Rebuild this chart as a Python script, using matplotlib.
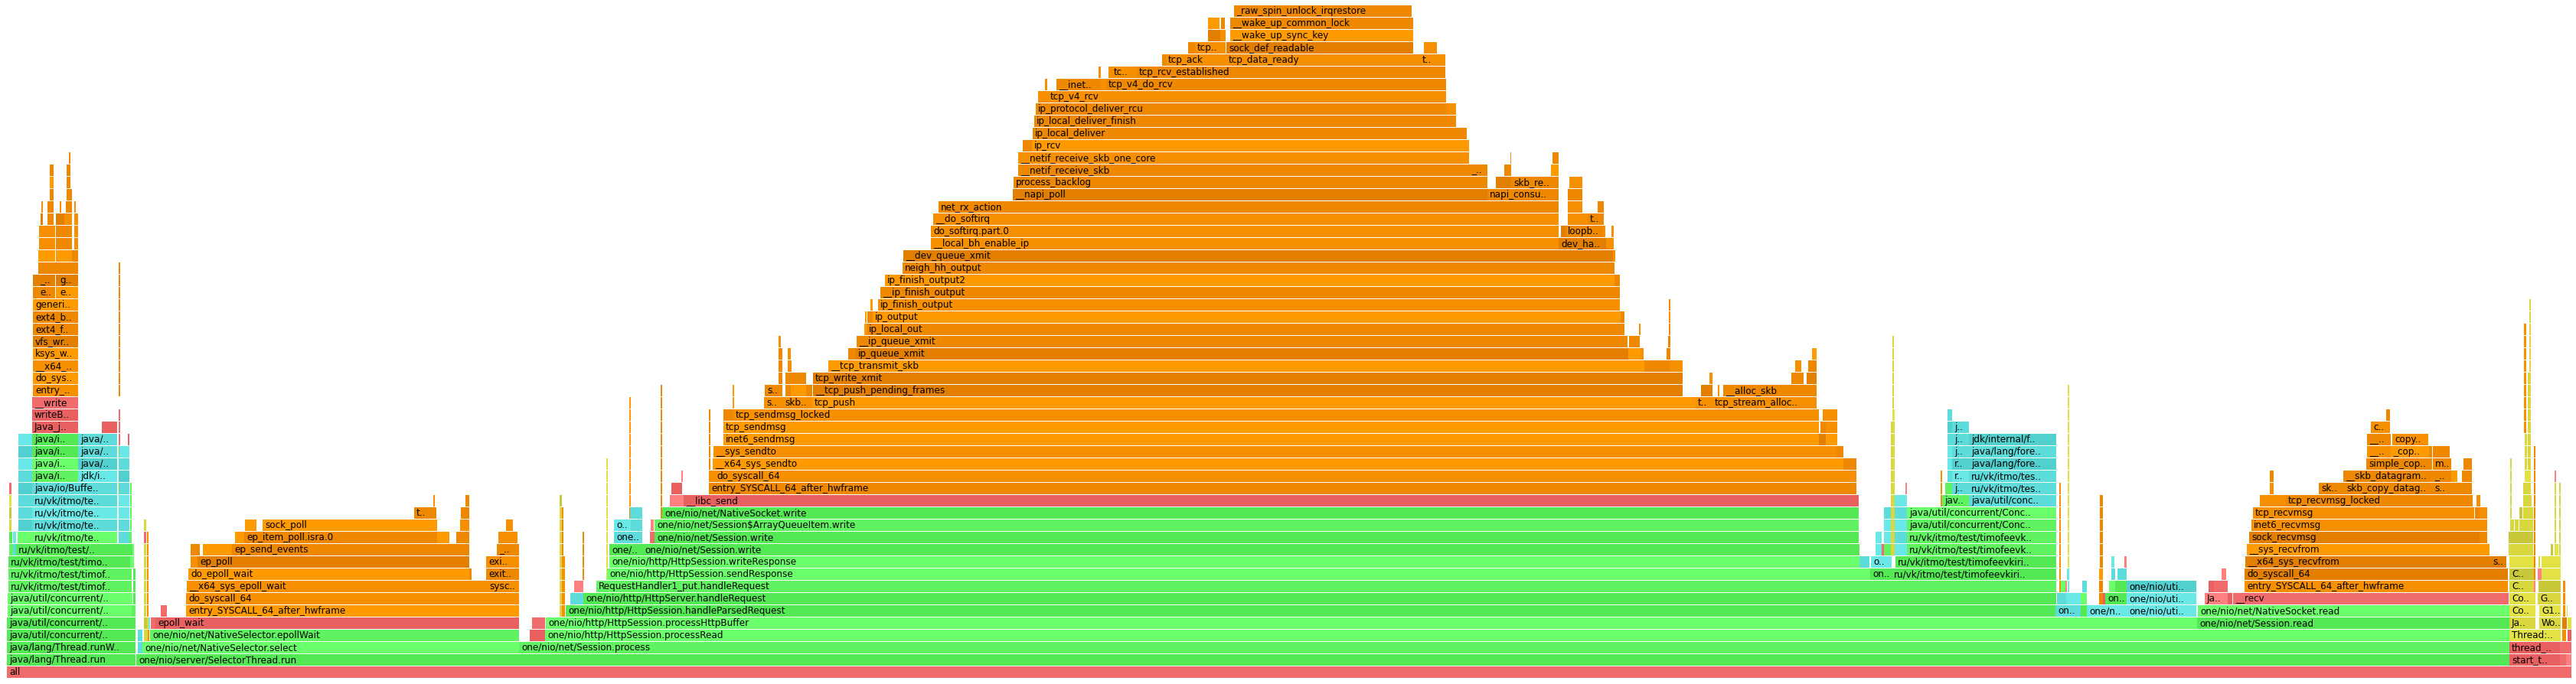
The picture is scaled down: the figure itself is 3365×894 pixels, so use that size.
import matplotlib
matplotlib.use("Agg")
import matplotlib.pyplot as plt

# async-profiler flame graph, x is in samples (1 sample ~ 1 px of the export)
# frame: (row, start, end, colour, name)

base_frames = [
    (0, 9, 3359, "r2", "all"),
    (1, 9, 177, "g3", "java/lang/Thread.run"),
    (1, 178, 3278, "g3", "one/nio/server/SelectorThread.run"),
    (1, 3278, 3344, "r3", "start_t.."), (1, 3344, 3352, "r2", ""), (1, 3352, 3359, "r1", ""),
    (2, 9, 177, "g3", "java/lang/Thread.runW.."),
    (2, 180, 186, "c2", ""),
    (2, 186, 678, "g1", "one/nio/net/NativeSelector.select"),
    (2, 678, 3278, "g2", "one/nio/net/Session.process"),
    (2, 3278, 3344, "r3", "thread_.."), (2, 3344, 3352, "r2", ""), (2, 3352, 3359, "r2", ""),
    (3, 9, 177, "g3", "java/util/concurrent/.."),
    (3, 180, 186, "c2", ""), (3, 188, 193, "y2", ""), (3, 193, 195, "o2", ""),
    (3, 196, 678, "g2", "one/nio/net/NativeSelector.epollWait"),
    (3, 692, 697, "r3", ""), (3, 697, 712, "r3", ""),
    (3, 712, 3278, "g1", "one/nio/http/HttpSession.processRead"),
    (3, 3278, 3345, "y1", "Thread:.."), (3, 3347, 3352, "o2", ""), (3, 3354, 3359, "r3", ""),
    (4, 9, 177, "g3", "java/util/concurrent/.."),
    (4, 188, 192, "y3", ""), (4, 192, 194, "y2", ""), (4, 194, 196, "c1", ""),
    (4, 197, 203, "r2", ""), (4, 203, 678, "r3", "epoll_wait"),
    (4, 695, 712, "r2", ""),
    (4, 713, 2870, "g1", "one/nio/http/HttpSession.processHttpBuffer"),
    (4, 2870, 3278, "g3", "one/nio/net/Session.read"),
    (4, 3278, 3312, "y2", "Ja.."), (4, 3317, 3345, "y2", "Wo.."),
    (4, 3347, 3353, "o4", ""), (4, 3354, 3359, "y1", ""),
]

left_stack = [
    (5, 10, 172, "g1", "java/util/concurrent/.."), (5, 172, 177, "g2", ""),
    (6, 10, 173, "g1", "java/util/concurrent/.."), (6, 174, 177, "g3", ""),
    (7, 11, 172, "g2", "ru/vk/itmo/test/timof.."), (7, 174, 177, "g3", ""),
    (8, 11, 172, "g2", "ru/vk/itmo/test/timof.."), (8, 174, 177, "g3", ""),
    (9, 11, 170, "g3", "ru/vk/itmo/test/timo.."), (9, 170, 175, "g1", ""),
    (10, 12, 17, "g2", ""), (10, 17, 21, "c2", ""), (10, 21, 173, "g3", "ru/vk/itmo/test/.."), (10, 173, 175, "g1", ""),
    (11, 12, 16, "g3", ""), (11, 17, 21, "c1", ""), (11, 23, 42, "g1", ""), (11, 42, 153, "g1", "ru/vk/itmo/te.."),
    (11, 155, 169, "c2", ""), (11, 169, 172, "g2", ""),
    (12, 12, 15, "y2", ""), (12, 24, 42, "c3", ""), (12, 42, 153, "c2", "ru/vk/itmo/te.."), (12, 155, 169, "c2", ""), (12, 170, 172, "g2", ""),
    (13, 12, 15, "y3", ""), (13, 24, 42, "c2", ""), (13, 42, 153, "c1", "ru/vk/itmo/te.."), (13, 155, 169, "c1", ""), (13, 170, 172, "g2", ""),
    (14, 12, 15, "y1", ""), (14, 24, 42, "c2", ""), (14, 42, 153, "c2", "ru/vk/itmo/te.."), (14, 155, 169, "c1", ""), (14, 170, 172, "g2", ""),
    (15, 12, 15, "r2", ""), (15, 24, 42, "c3", ""), (15, 42, 153, "c2", "java/io/Buffe.."), (15, 155, 156, "g3", ""), (15, 156, 169, "c2", ""), (15, 170, 172, "g2", ""),
    (16, 24, 42, "c2", ""), (16, 42, 102, "g2", "java/i.."), (16, 102, 153, "c1", "jdk/i.."), (16, 155, 169, "c3", ""),
    (17, 24, 42, "c1", ""), (17, 42, 102, "g1", "java/i.."), (17, 102, 153, "c3", "java/.."), (17, 155, 169, "c2", ""),
    (18, 24, 42, "c3", ""), (18, 42, 102, "g3", "java/i.."), (18, 102, 153, "c2", "java/.."), (18, 155, 156, "g3", ""), (18, 156, 169, "c1", ""),
    (19, 24, 42, "c1", ""), (19, 42, 102, "g3", "java/i.."), (19, 102, 153, "c2", "java/.."), (19, 155, 157, "r2", ""), (19, 167, 169, "r3", ""),
    (20, 42, 102, "r3", "Java_j.."), (20, 133, 153, "r3", ""), (20, 155, 157, "r2", ""),
    (21, 42, 102, "r3", "writeB.."), (21, 155, 157, "r2", ""),
    (22, 42, 102, "r2", "__write"),
    (23, 43, 102, "o2", "entry_.."), (24, 43, 102, "o1", "do_sys.."),
    (25, 43, 102, "o2", "__x64_.."), (26, 43, 102, "o1", "ksys_w.."),
    (27, 43, 102, "o4", "vfs_wr.."), (28, 43, 102, "o3", "ext4_f.."),
    (29, 43, 102, "o3", "ext4_b.."), (30, 43, 102, "o1", "generi.."),
    (31, 43, 49, "o3", ""), (31, 49, 72, "o3", "e.."), (31, 73, 75, "o1", ""), (31, 75, 102, "o1", "e.."),
    (32, 43, 49, "o4", ""), (32, 49, 72, "o4", "_.."), (32, 73, 75, "o4", ""), (32, 75, 102, "o4", "g.."),
    (33, 50, 102, "o3", ""),
    (34, 50, 72, "o1", ""), (34, 73, 94, "o1", ""), (34, 94, 102, "o3", ""),
    (35, 51, 72, "o2", ""), (35, 73, 94, "o3", ""), (35, 97, 102, "o2", ""),
    (36, 51, 72, "o2", ""), (36, 73, 94, "o3", ""), (36, 97, 102, "o2", ""),
    (37, 53, 56, "o4", ""), (37, 62, 70, "o3", ""), (37, 73, 84, "o4", ""), (37, 84, 94, "o2", ""), (37, 97, 102, "o2", ""),
    (38, 54, 56, "o2", ""), (38, 62, 70, "o3", ""), (38, 78, 80, "o2", ""), (38, 86, 94, "o3", ""), (38, 97, 99, "o2", ""),
    (39, 65, 70, "o3", ""), (39, 87, 94, "o3", ""),
    (40, 65, 70, "o1", ""), (40, 87, 92, "o3", ""),
    (41, 65, 70, "o3", ""), (41, 87, 92, "o3", ""),
    (42, 90, 92, "o3", ""),
]

epoll_stack = [
    (5, 210, 218, "r2", ""), (5, 243, 678, "o1", "entry_SYSCALL_64_after_hwframe"),
    (6, 243, 678, "o2", "do_syscall_64"),
    (7, 244, 636, "o2", "__x64_sys_epoll_wait"), (7, 636, 678, "o2", "sysc.."),
    (8, 246, 613, "o1", "do_epoll_wait"), (8, 613, 616, "o3", ""), (8, 635, 678, "o3", "exit.."),
    (9, 249, 258, "o2", ""), (9, 258, 613, "o4", "ep_poll"), (9, 635, 678, "o2", "exi.."),
    (10, 249, 261, "o3", ""), (10, 265, 303, "o1", ""), (10, 303, 587, "o3", "ep_send_events"),
    (10, 587, 596, "o3", ""), (10, 596, 613, "o3", ""), (10, 649, 678, "o3", "_.."),
    (11, 307, 319, "o1", ""), (11, 319, 571, "o3", "ep_item_poll.isra.0"), (11, 571, 587, "o1", ""),
    (11, 596, 613, "o3", ""), (11, 651, 676, "o2", ""),
    (12, 320, 335, "o1", ""), (12, 343, 571, "o1", "sock_poll"), (12, 601, 613, "o2", ""), (12, 661, 670, "o2", ""),
    (13, 541, 570, "o3", "t.."), (13, 602, 613, "o3", ""),
    (14, 566, 568, "o2", ""), (14, 608, 613, "o3", ""),
]

request_stack = [
    (5, 739, 2685, "g3", "one/nio/http/HttpSession.handleParsedRequest"),
    (6, 745, 762, "c2", ""), (6, 762, 2686, "g3", "one/nio/http/HttpServer.handleRequest"),
    (7, 750, 762, "r1", ""), (7, 779, 2686, "g2", "RequestHandler1_put.handleRequest"),
    (8, 793, 2443, "g1", "one/nio/http/HttpSession.sendResponse"), (8, 2443, 2471, "g3", "on.."),
    (8, 2471, 2686, "g3", "ru/vk/itmo/test/timofeevkiri.."),
    (9, 796, 2429, "g1", "one/nio/http/HttpSession.writeResponse"), (9, 2429, 2442, "c2", ""),
    (9, 2444, 2471, "c1", "o.."), (9, 2476, 2686, "g3", "ru/vk/itmo/test/timofeevkiri.."),
    (10, 796, 839, "g3", "one/.."), (10, 839, 2429, "g3", "one/nio/net/Session.write"),
    (10, 2450, 2458, "c1", ""), (10, 2458, 2461, "r2", ""), (10, 2461, 2470, "g2", ""), (10, 2475, 2491, "c1", ""),
    (10, 2491, 2686, "g2", "ru/vk/itmo/test/timofeevk.."),
    (11, 802, 839, "c2", "one.."), (11, 849, 855, "r2", ""), (11, 855, 2428, "g3", "one/nio/net/Session.write"),
    (11, 2450, 2458, "c1", ""), (11, 2461, 2470, "c1", ""), (11, 2475, 2491, "c2", ""),
    (11, 2491, 2686, "g2", "ru/vk/itmo/test/timofeevk.."),
    (12, 802, 824, "c1", "o.."), (12, 824, 839, "c2", ""), (12, 850, 854, "r1", ""),
    (12, 855, 2428, "g2", "one/nio/net/Session$ArrayQueueItem.write"),
    (12, 2461, 2470, "c1", ""), (12, 2475, 2491, "c1", ""), (12, 2491, 2686, "g2", "java/util/concurrent/Conc.."),
    (13, 823, 839, "c2", ""), (13, 865, 2428, "g3", "one/nio/net/NativeSocket.write"),
    (13, 2461, 2470, "c2", ""), (13, 2475, 2491, "c2", ""), (13, 2491, 2686, "g1", "java/util/concurrent/Conc.."),
    (14, 875, 893, "r1", ""), (14, 893, 2428, "r3", "__libc_send"),
    (14, 2475, 2491, "c1", ""), (14, 2537, 2572, "g2", "jav.."), (14, 2572, 2686, "c2", "java/util/conc.."),
    (15, 877, 891, "r3", ""), (15, 926, 2425, "o3", "entry_SYSCALL_64_after_hwframe"),
    (15, 2541, 2550, "g2", ""), (15, 2550, 2572, "c2", "j.."), (15, 2572, 2686, "c2", "ru/vk/itmo/tes.."),
    (16, 890, 892, "r1", ""), (16, 926, 933, "o2", ""), (16, 933, 2425, "o2", "do_syscall_64"),
    (16, 2544, 2550, "c2", ""), (16, 2550, 2572, "c1", "r.."), (16, 2572, 2686, "c2", "ru/vk/itmo/tes.."),
    (17, 931, 2408, "o1", "__x64_sys_sendto"), (17, 2408, 2425, "o3", ""),
    (17, 2544, 2550, "c1", ""), (17, 2550, 2572, "c3", "r.."), (17, 2572, 2686, "c3", "java/lang/fore.."),
    (18, 932, 2399, "o2", "__sys_sendto"), (18, 2399, 2408, "o3", ""),
    (18, 2544, 2550, "c1", ""), (18, 2550, 2572, "c2", "j.."), (18, 2572, 2686, "c2", "java/lang/fore.."),
    (19, 945, 2376, "o1", "inet6_sendmsg"), (19, 2376, 2385, "o4", ""), (19, 2385, 2400, "o1", ""),
    (19, 2544, 2550, "c2", ""), (19, 2550, 2572, "c2", "j.."), (19, 2572, 2686, "c3", "jdk/internal/f.."),
    (20, 945, 2376, "o1", "tcp_sendmsg"), (20, 2378, 2385, "o3", ""), (20, 2385, 2400, "o2", ""),
    (20, 2544, 2550, "c3", ""), (20, 2550, 2572, "c2", "j.."),
    (21, 945, 958, "o3", ""), (21, 958, 2376, "o2", "tcp_sendmsg_locked"), (21, 2381, 2400, "o2", ""),
    (21, 2544, 2550, "c2", ""),
]

tcp_stack = [
    (22, 998, 1022, "o2", "s.."), (22, 1022, 1061, "o2", "skb.."), (22, 1061, 2198, "o1", "tcp_push"),
    (22, 2198, 2215, "o1", ""), (22, 2215, 2237, "o2", "t.."), (22, 2237, 2373, "o2", "tcp_stream_alloc.."),
    (23, 999, 1022, "o3", "s.."), (23, 1026, 1033, "o3", ""), (23, 1033, 1053, "o1", ""), (23, 1053, 1061, "o3", ""),
    (23, 1062, 2198, "o4", "__tcp_push_pending_frames"), (23, 2222, 2237, "o4", ""), (23, 2244, 2246, "o2", ""),
    (23, 2251, 2373, "o3", "__alloc_skb"),
    (24, 1017, 1022, "o3", ""), (24, 1026, 1053, "o3", ""), (24, 1062, 2198, "o4", "tcp_write_xmit"),
    (24, 2233, 2237, "o2", ""), (24, 2340, 2356, "o3", ""), (24, 2360, 2373, "o4", ""),
    (25, 1017, 1022, "o3", ""), (25, 1029, 1034, "o2", ""), (25, 1082, 2148, "o1", "__tcp_transmit_skb"),
    (25, 2148, 2162, "o3", ""), (25, 2162, 2181, "o3", ""), (25, 2181, 2198, "o2", ""),
    (25, 2345, 2353, "o2", ""), (25, 2362, 2373, "o3", ""),
    (26, 1017, 1022, "o3", ""), (26, 1029, 1033, "o2", ""), (26, 1108, 1118, "o3", ""), (26, 1118, 2127, "o4", "ip_queue_xmit"),
    (26, 2127, 2143, "o1", ""), (26, 2143, 2147, "o2", ""), (26, 2177, 2182, "o3", ""), (26, 2367, 2373, "o1", ""),
    (27, 1017, 1020, "o2", ""), (27, 1119, 2126, "o3", "__ip_queue_xmit"), (27, 2128, 2142, "o3", ""), (27, 2179, 2182, "o3", ""),
    (28, 1129, 1132, "o1", ""), (28, 1132, 2122, "o3", "ip_local_out"), (28, 2141, 2143, "o2", ""), (28, 2180, 2182, "o3", ""),
    (29, 1130, 1132, "o1", ""), (29, 1133, 1140, "o3", ""), (29, 1140, 2117, "o1", "ip_output"), (29, 2117, 2122, "o3", ""), (29, 2180, 2182, "o2", ""),
    (30, 1137, 1140, "o1", ""), (30, 1147, 2116, "o2", "ip_finish_output"), (30, 2180, 2182, "o3", ""),
    (31, 1150, 2116, "o3", "__ip_finish_output"),
    (32, 1156, 2109, "o1", "ip_finish_output2"), (32, 2109, 2116, "o3", ""),
    (33, 1179, 2109, "o3", "neigh_hh_output"),
    (34, 1180, 2107, "o4", "__dev_queue_xmit"), (34, 2107, 2110, "o2", ""),
    (35, 1216, 2036, "o2", "__local_bh_enable_ip"), (35, 2036, 2098, "o4", "dev_ha.."), (35, 2098, 2108, "o2", ""),
    (36, 1216, 2036, "o2", "do_softirq.part.0"), (36, 2039, 2045, "o4", ""), (36, 2045, 2095, "o3", "loopb.."), (36, 2095, 2097, "o2", ""), (36, 2105, 2108, "o2", ""),
    (37, 1219, 2036, "o2", "__do_softirq"), (37, 2048, 2074, "o2", ""), (37, 2074, 2095, "o3", "t.."),
    (38, 1226, 2036, "o3", "net_rx_action"), (38, 2048, 2067, "o2", ""), (38, 2087, 2095, "o3", ""),
    (39, 1323, 1943, "o4", "__napi_poll"), (39, 1943, 2036, "o3", "napi_consu.."), (39, 2048, 2067, "o3", ""),
    (40, 1324, 1943, "o3", "process_backlog"), (40, 1954, 1974, "o4", ""), (40, 1974, 2036, "o3", "skb_re.."), (40, 2050, 2067, "o2", ""),
    (41, 1330, 1919, "o3", "__netif_receive_skb"), (41, 1919, 1943, "o3", "_.."), (41, 1965, 1974, "o3", ""), (41, 2026, 2036, "o1", ""),
    (42, 1330, 1919, "o2", "__netif_receive_skb_one_core"), (42, 1973, 1974, "o2", ""), (42, 2028, 2036, "o3", ""),
    (43, 1336, 1348, "o3", ""), (43, 1348, 1919, "o1", "ip_rcv"),
    (44, 1349, 1902, "o3", "ip_local_deliver"), (44, 1902, 1916, "o3", ""),
    (45, 1351, 1902, "o3", "ip_local_deliver_finish"),
    (46, 1353, 1889, "o3", "ip_protocol_deliver_rcu"), (46, 1889, 1902, "o2", ""),
    (47, 1356, 1369, "o2", ""), (47, 1369, 1889, "o2", "tcp_v4_rcv"),
    (48, 1365, 1368, "o2", ""), (48, 1380, 1438, "o3", "__inet.."), (48, 1438, 1445, "o2", ""), (48, 1445, 1889, "o3", "tcp_v4_do_rcv"),
    (49, 1435, 1438, "o2", ""), (49, 1448, 1452, "o2", ""), (49, 1452, 1485, "o2", "tc.."), (49, 1485, 1888, "o3", "tcp_rcv_established"),
    (50, 1518, 1523, "o3", ""), (50, 1523, 1602, "o2", "tcp_ack"), (50, 1602, 1846, "o2", "tcp_data_ready"),
    (50, 1846, 1855, "o2", ""), (50, 1855, 1878, "o2", "t.."), (50, 1878, 1888, "o2", ""),
    (51, 1552, 1561, "o3", ""), (51, 1561, 1601, "o2", "tcp.."), (51, 1602, 1846, "o4", "sock_def_readable"),
    (51, 1860, 1867, "o2", ""), (51, 1867, 1877, "o2", ""),
    (52, 1578, 1594, "o4", ""), (52, 1594, 1601, "o2", ""), (52, 1607, 1846, "o1", "__wake_up_sync_key"),
    (53, 1578, 1593, "o1", ""), (53, 1595, 1600, "o3", ""), (53, 1607, 1846, "o3", "__wake_up_common_lock"),
    (54, 1612, 1844, "o3", "_raw_spin_unlock_irqrestore"),
]

worker_stack = [
    (5, 2685, 2718, "c2", "on.."), (5, 2718, 2726, "g3", ""), (5, 2726, 2778, "c1", "one/n.."), (5, 2778, 2869, "c1", "one/nio/uti.."),
    (6, 2687, 2699, "c2", ""), (6, 2699, 2718, "c1", ""), (6, 2718, 2726, "g1", ""), (6, 2742, 2747, "o3", ""), (6, 2747, 2750, "r3", ""),
    (6, 2750, 2778, "g3", "on.."), (6, 2778, 2869, "c1", "one/nio/uti.."),
    (7, 2690, 2692, "o2", ""), (7, 2692, 2698, "g1", ""), (7, 2698, 2700, "r1", ""), (7, 2701, 2703, "c1", ""),
    (7, 2720, 2726, "c2", ""), (7, 2742, 2747, "o3", ""), (7, 2755, 2763, "g1", ""), (7, 2763, 2778, "g3", ""), (7, 2778, 2869, "c3", "one/nio/uti.."),
    (8, 2700, 2703, "c1", ""), (8, 2742, 2747, "o1", ""), (8, 2758, 2763, "c2", ""), (8, 2766, 2778, "c2", ""),
    (9, 2758, 2762, "c1", ""), (9, 2775, 2778, "r1", ""),
]

recv_stack = [
    (5, 2871, 3278, "g1", "one/nio/net/NativeSocket.read"),
    (6, 2880, 2910, "r1", "Ja.."), (6, 2910, 2916, "r3", ""), (6, 2917, 3277, "r2", "__recv"),
    (7, 2885, 2892, "r3", ""), (7, 2892, 2910, "r2", ""), (7, 2932, 3276, "o2", "entry_SYSCALL_64_after_hwframe"),
    (8, 2902, 2908, "r1", ""), (8, 2932, 3276, "o4", "do_syscall_64"),
    (9, 2933, 3253, "o4", "__x64_sys_recvfrom"), (9, 3253, 3274, "o4", "s.."),
    (10, 2935, 3252, "o1", "__sys_recvfrom"),
    (11, 2938, 3239, "o4", "sock_recvmsg"), (11, 3239, 3249, "o3", ""),
    (12, 2941, 3231, "o2", "inet6_recvmsg"), (12, 3231, 3249, "o2", ""),
    (13, 2943, 3232, "o2", "tcp_recvmsg"), (13, 3233, 3239, "o3", ""), (13, 3239, 3249, "o2", ""),
    (14, 2952, 2986, "o2", ""), (14, 2986, 3230, "o3", "tcp_recvmsg_locked"), (14, 3235, 3240, "o2", ""),
    (15, 2965, 2970, "o2", ""), (15, 3029, 3062, "o3", "sk.."), (15, 3062, 3177, "o3", "skb_copy_datag.."),
    (15, 3177, 3202, "o3", "s.."), (15, 3202, 3229, "o3", ""),
    (16, 2965, 2970, "o3", ""), (16, 3061, 3177, "o3", "__skb_datagram.."), (16, 3177, 3202, "o3", "_.."),
    (16, 3202, 3210, "o1", ""), (16, 3216, 3229, "o3", ""),
    (17, 3091, 3177, "o3", "simple_cop.."), (17, 3178, 3202, "o3", "m.."), (17, 3218, 3229, "o3", ""),
    (18, 3092, 3123, "o2", "__.."), (18, 3123, 3173, "o1", "_cop.."), (18, 3173, 3177, "o3", ""), (18, 3178, 3200, "o3", ""),
    (19, 3092, 3123, "o3", "__.."), (19, 3125, 3172, "o2", "copy.."),
    (20, 3097, 3122, "o2", "c.."),
    (21, 3117, 3122, "o3", ""),
]

jvm_stack = [
    (5, 3278, 3312, "y1", "Co.."), (5, 3317, 3345, "y1", "G1.."), (5, 3348, 3351, "o2", ""), (5, 3353, 3354, "y1", ""),
    (6, 3278, 3312, "y1", "Co.."), (6, 3315, 3345, "y2", "G.."), (6, 3348, 3351, "o2", ""),
    (7, 3278, 3310, "y2", "C.."), (7, 3310, 3312, "r1", ""), (7, 3316, 3345, "y3", ""), (7, 3348, 3351, "o2", ""),
    (8, 3278, 3310, "y3", "C.."), (8, 3315, 3320, "r1", ""), (8, 3320, 3345, "y1", ""),
    (9, 3278, 3310, "y1", ""), (9, 3316, 3318, "y2", ""), (9, 3320, 3345, "y1", ""),
    (10, 3277, 3309, "y2", ""), (10, 3332, 3335, "y3", ""), (10, 3337, 3342, "y1", ""),
    (11, 3277, 3309, "y3", ""),
    (12, 3279, 3284, "y2", ""), (12, 3285, 3290, "y2", ""), (12, 3291, 3309, "y2", ""),
    (13, 3291, 3295, "y3", ""), (13, 3296, 3309, "y2", ""),
    (14, 3296, 3307, "y2", ""),
    (15, 3296, 3306, "y2", ""), (16, 3298, 3306, "y1", ""),
]

# thin towers that keep the same position over several rows
# (first row, last row, start, end, colour)
spikes = [
    (23, 33, 155, 157, "o3"),
    (5, 10, 188, 191, "y2"), (5, 10, 192, 194, "o2"), (11, 11, 188, 191, "r2"), (11, 11, 192, 194, "o2"), (12, 12, 188, 191, "y2"),
    (5, 13, 731, 734, "y2"), (5, 9, 734, 738, "o2"), (13, 13, 734, 736, "o2"), (10, 12, 734, 736, "o3"), (14, 14, 731, 734, "y3"),
    (8, 11, 761, 763, "o3"), (8, 17, 792, 794, "y1"),
    (14, 22, 822, 824, "o1"), (13, 13, 822, 823, "o3"), (13, 23, 863, 865, "o3"),
    (17, 21, 926, 928, "o3"), (22, 23, 957, 959, "o1"),
    (10, 12, 2470, 2475, "y2"), (13, 20, 2470, 2475, "y2"), (21, 21, 2472, 2475, "y1"), (22, 27, 2472, 2474, "y2"),
    (14, 16, 2535, 2537, "o2"), (15, 15, 2489, 2491, "r1"),
    (8, 15, 2690, 2692, "o2"), (9, 23, 2701, 2703, "y1"), (9, 14, 2743, 2747, "o3"),
    (20, 28, 3297, 3300, "o2"), (17, 24, 3302, 3306, "y2"), (25, 30, 3304, 3306, "y2"),
    (17, 19, 3298, 3301, "y2"), (13, 17, 3279, 3281, "y2"), (8, 18, 3310, 3312, "o3"),
    (11, 15, 3337, 3339, "y2"), (16, 16, 3337, 3339, "r1"), (10, 15, 3343, 3345, "y2"),
]

colors = {
    "g1": "#6bff6b", "g2": "#60f260", "g3": "#54e854",
    "c1": "#6ae8e8", "c2": "#5edcdc", "c3": "#52cfcf",
    "o1": "#ff9a00", "o2": "#f79000", "o3": "#ee8800", "o4": "#e27f00",
    "r1": "#ff8080", "r2": "#f06c6c", "r3": "#e86060",
    "y1": "#e2e244", "y2": "#d8d83e", "y3": "#c8c83a",
}

ROW_H = 15 / 16

fig = plt.figure(figsize=(33.65, 8.94), dpi=100)
ax = fig.add_axes([0, 0, 1, 1])

for first, last, start, end, kind in spikes:
    for row in range(first, last + 1):
        ax.barh(row, end - start, left=start, height=ROW_H, align="edge", color=colors[kind], linewidth=0)

stacks = [base_frames, left_stack, epoll_stack, request_stack, tcp_stack, worker_stack, recv_stack, jvm_stack]
for stack in stacks:
    for row, start, end, kind, name in stack:
        ax.barh(row, end - start, left=start, height=ROW_H, align="edge", color=colors[kind], linewidth=0)
        if name:
            ax.text(start + 3, row + 0.22, name, fontsize=8.64, color="black", va="baseline", ha="left")

ax.set_xlim(0, 3365)
ax.set_ylim(-0.5, 55.375)
ax.axis("off")

fig.savefig("out.png", dpi=100, facecolor="white")
